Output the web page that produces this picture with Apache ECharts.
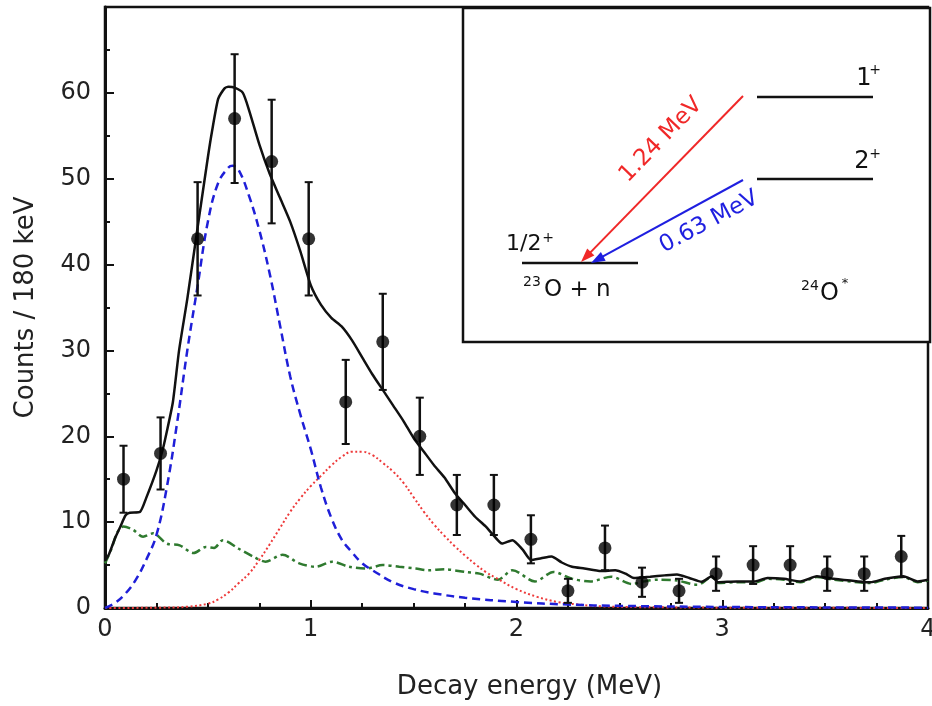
<!DOCTYPE html>
<html>
<head>
<meta charset="utf-8">
<script src="https://cdn.jsdelivr.net/npm/echarts@6/dist/echarts.min.js"></script>
<style>html,body{margin:0;padding:0;background:#fff;overflow:hidden;}#c{width:932px;height:706px;}</style>
</head>
<body>
<div id="c"></div>
<script>
// ---- data ----
var binX = [0.09,0.27,0.45,0.63,0.81,0.99,1.17,1.35,1.53,1.71,1.89,2.07,2.25,2.43,2.61,2.79,2.97,3.15,3.33,3.51,3.69,3.87];
var counts = [15,18,43,57,52,43,24,31,20,12,12,8,2,7,3,2,4,5,5,4,4,6];
var countErr = [3.9,4.2,6.6,7.5,7.2,6.6,4.9,5.6,4.5,3.5,3.5,2.8,1.4,2.6,1.7,1.4,2.0,2.2,2.2,2.0,2.0,2.4];

var totalX = [0,0.02,0.05,0.075,0.1,0.12,0.17,0.2,0.25,0.28,0.3,0.33,0.36,0.4,0.45,0.5,0.52,0.55,0.58,0.6,0.63,0.67,0.7,0.75,0.8,0.85,0.9,0.95,1.0,1.05,1.1,1.15,1.2,1.25,1.3,1.35,1.4,1.45,1.5,1.55,1.6,1.65,1.7,1.75,1.8,1.85,1.88,1.93,1.98,2.03,2.07,2.12,2.17,2.22,2.27,2.33,2.41,2.48,2.53,2.57,2.65,2.72,2.78,2.84,2.9,2.95,2.98,3.07,3.16,3.22,3.30,3.38,3.46,3.54,3.66,3.72,3.79,3.88,3.95,4.0];
var totalY = [5.5,6.3,8.2,9.5,10.8,11.1,11.2,12.8,16,18.4,20.5,24,30,36,44.3,52.5,55.5,59.3,60.5,60.7,60.6,60,58,54,50.6,47.8,45,41.5,37.6,35.3,33.8,32.8,31.2,29.2,27.2,25.4,23.6,21.8,19.8,18.2,16.6,15.2,13.4,12,10.6,9.5,8.7,7.5,7.9,6.8,5.6,5.8,6.0,5.3,4.8,4.6,4.3,4.4,4.0,3.5,3.65,3.8,3.9,3.5,3.06,3.7,3.0,3.1,3.1,3.5,3.4,3.1,3.7,3.4,3.1,3.0,3.4,3.7,3.1,3.3];

var peak1X = [0,0.05,0.1,0.15,0.2,0.25,0.3,0.35,0.4,0.45,0.5,0.55,0.6,0.62,0.65,0.7,0.75,0.8,0.85,0.9,0.95,1.0,1.05,1.1,1.15,1.2,1.25,1.3,1.4,1.5,1.6,1.75,2.0,2.25,2.5,3.0,3.5,4.0];
var peak1Y = [0,0.6,1.7,3.3,5.6,8.5,14,21.5,30,37.5,45,49.5,51.3,51.5,51,48,44,39,33,27,22.5,18.5,14,10.5,8,6.5,5.2,4.4,3.0,2.2,1.7,1.2,0.7,0.4,0.25,0.12,0.07,0.04];

var peak2X = [0,0.3,0.4,0.5,0.55,0.6,0.65,0.7,0.75,0.8,0.85,0.9,0.95,1.0,1.05,1.1,1.15,1.2,1.25,1.3,1.35,1.4,1.45,1.5,1.55,1.6,1.65,1.7,1.75,1.8,1.85,1.9,2.0,2.1,2.2,2.3,2.4,2.6,3.0,3.5,4.0];
var peak2Y = [0,0.05,0.15,0.5,1.0,1.8,2.9,4.0,5.6,7.4,9.3,11.2,12.8,14.2,15.4,16.6,17.6,18.2,18.2,17.8,16.9,15.9,14.6,12.9,11.2,9.7,8.4,7.2,6.1,5.1,4.2,3.5,2.2,1.3,0.7,0.4,0.2,0.1,0.04,0.02,0];

var bgX = [0,0.03,0.06,0.09,0.137,0.185,0.234,0.30,0.363,0.43,0.49,0.53,0.573,0.65,0.72,0.78,0.863,0.944,1.025,1.105,1.186,1.27,1.35,1.43,1.51,1.57,1.65,1.75,1.82,1.91,1.98,2.09,2.18,2.27,2.36,2.46,2.56,2.62,2.69,2.78,2.88,2.95,2.98,3.07,3.16,3.22,3.30,3.38,3.46,3.54,3.66,3.72,3.79,3.88,3.95,4.0];
var bgY = [5.2,6.8,8.8,9.5,9.1,8.3,8.7,7.5,7.3,6.4,7.1,7.0,7.9,6.9,6.0,5.4,6.2,5.2,4.8,5.4,4.8,4.6,5.0,4.8,4.6,4.4,4.5,4.2,4.0,3.3,4.4,3.1,4.2,3.4,3.1,3.65,2.8,3.1,3.3,3.2,2.7,3.6,2.9,3.0,3.0,3.4,3.3,3.0,3.6,3.3,3.0,2.9,3.3,3.6,3.0,3.2];

var xTicks = [0,1,2,3,4];
var yTicks = [0,10,20,30,40,50,60];

// ---- helpers ----
function pairs(xs, ys){ var n=Math.min(xs.length, ys.length), out=[]; for(var i=0;i<n;i++) out.push([xs[i], ys[i]]); return out; }
var FONT = 'DejaVu Sans';

function arrow(x1,y1,x2,y2,color){
  var dx=x2-x1, dy=y2-y1, L=Math.sqrt(dx*dx+dy*dy), ux=dx/L, uy=dy/L, nx=-uy, ny=ux;
  var hl=14, hw=5;
  var bx=x2-hl*ux, by=y2-hl*uy;
  return [
    {type:'line', shape:{x1:x1,y1:y1,x2:bx+4*ux,y2:by+4*uy}, style:{stroke:color,lineWidth:2}, z:100},
    {type:'polygon', shape:{points:[[x2,y2],[bx+hw*nx,by+hw*ny],[bx-hw*nx,by-hw*ny]]}, style:{fill:color}, z:100}
  ];
}
function txt(x,y,s,size,opts){
  opts=opts||{};
  return {type:'text', x:x, y:y, rotation:opts.rot||0, z:101,
    style:{text:s, x:0, y:0, fontSize:size, fontFamily:FONT, fill:opts.color||'#111',
           align:opts.align||'center', verticalAlign:'middle'}};
}

var chart = echarts.init(document.getElementById('c'));
var graphics = [
  {type:'rect', shape:{x:463,y:8,width:467,height:334}, style:{fill:'#fff',stroke:'#111',lineWidth:2.5}, z:99},
  {type:'line', shape:{x1:757,y1:97,x2:873,y2:97}, style:{stroke:'#111',lineWidth:2.5}, z:100},
  {type:'line', shape:{x1:757,y1:179,x2:873,y2:179}, style:{stroke:'#111',lineWidth:2.5}, z:100},
  {type:'line', shape:{x1:522,y1:263,x2:638,y2:263}, style:{stroke:'#111',lineWidth:2.5}, z:100},
  txt(864,79,'1',24), txt(875,70,'+',14),
  txt(862,162,'2',24), txt(875,154,'+',14),
  txt(506,244,'1/2',22,{align:'left'}), txt(548,238,'+',14),
  txt(532,282,'23',14), txt(544,290,'O + n',23,{align:'left'}),
  txt(810,286,'24',14), txt(820,294,'O',24,{align:'left'}), txt(845,284,'*',13)
];
graphics = graphics.concat(arrow(743,96,581,262,'#f02828'));
graphics = graphics.concat(arrow(743,180,591,263,'#1f1fe0'));
graphics.push(txt(661,140,'1.24 MeV',23,{color:'#f02828',rot:46*Math.PI/180}));
graphics.push(txt(709,222,'0.63 MeV',23,{color:'#1f1fe0',rot:28*Math.PI/180}));

var option = {
  backgroundColor:'#fff',
  animation:false,
  grid:{left:105, right:4, top:7, bottom:98, show:true, borderColor:'#111', borderWidth:2.5,
        backgroundColor:'transparent', containLabel:false, outerBoundsMode:'none'},
  xAxis:{
    type:'value', min:0, max:4, interval:1,
    name:'Decay energy (MeV)', nameLocation:'middle', nameGap:66,
    nameTextStyle:{fontSize:26, fontFamily:FONT, color:'#222', padding:[0,0,0,26]},
    axisLine:{show:true, lineStyle:{color:'#111', width:3}},
    axisTick:{show:true, inside:true, length:8, lineStyle:{color:'#111', width:2}},
    minorTick:{show:true, splitNumber:4, length:5, lineStyle:{color:'#111', width:2}},
    splitLine:{show:false},
    axisLabel:{fontSize:24, fontFamily:FONT, color:'#222', margin:10, hideOverlap:false,
      formatter:function(v){ return xTicks.indexOf(v)>=0 ? String(v) : ''; }}
  },
  yAxis:{
    type:'value', min:0, max:70, interval:10,
    name:'Counts / 180 keV', nameLocation:'middle', nameGap:66,
    nameTextStyle:{fontSize:26, fontFamily:FONT, color:'#222'},
    axisLine:{show:true, lineStyle:{color:'#111', width:3}},
    axisTick:{show:true, inside:true, length:9, lineStyle:{color:'#111', width:2}},
    minorTick:{show:true, splitNumber:2, length:5, lineStyle:{color:'#111', width:2}},
    splitLine:{show:false},
    axisLabel:{fontSize:24, fontFamily:FONT, color:'#222', margin:14,
      formatter:function(v){ return yTicks.indexOf(v)>=0 ? String(v) : ''; }}
  },
  graphic: graphics,
  series:[
    {type:'line', data:pairs(bgX,bgY), showSymbol:false, smooth:0.3, z:2,
     lineStyle:{color:'#2f7a2f', width:2.5, type:[9,4,3,4]}},
    {type:'line', data:pairs(peak2X,peak2Y), showSymbol:false, smooth:0.4, z:3,
     lineStyle:{color:'#ee3a3a', width:2, type:[2,2.5]}},
    {type:'line', data:pairs(peak1X,peak1Y), showSymbol:false, smooth:0.4, z:4,
     lineStyle:{color:'#1f1fd8', width:2.5, type:[8,5]}},
    {type:'line', data:pairs(totalX,totalY), showSymbol:false, smooth:0.2, z:5,
     lineStyle:{color:'#111', width:2.5}},
    {type:'custom', z:6,
     data: binX.map(function(x,i){ return [x, counts[i], countErr[i]]; }),
     renderItem:function(params, api){
       var x=api.value(0), y=api.value(1), e=api.value(2);
       var t=api.coord([x, y+e]), b=api.coord([x, Math.max(0,y-e)]);
       var c=4;
       return {type:'group', children:[
         {type:'line', shape:{x1:t[0],y1:t[1],x2:b[0],y2:b[1]}, style:{stroke:'#111',lineWidth:2.5}},
         {type:'line', shape:{x1:t[0]-c,y1:t[1],x2:t[0]+c,y2:t[1]}, style:{stroke:'#111',lineWidth:2}},
         {type:'line', shape:{x1:b[0]-c,y1:b[1],x2:b[0]+c,y2:b[1]}, style:{stroke:'#111',lineWidth:2}}
       ]};
     }},
    {type:'scatter', data:pairs(binX,counts), symbol:'circle', symbolSize:13, z:7,
     itemStyle:{color:'#000'}}
  ]
};
chart.setOption(option);
</script>
</body>
</html>
